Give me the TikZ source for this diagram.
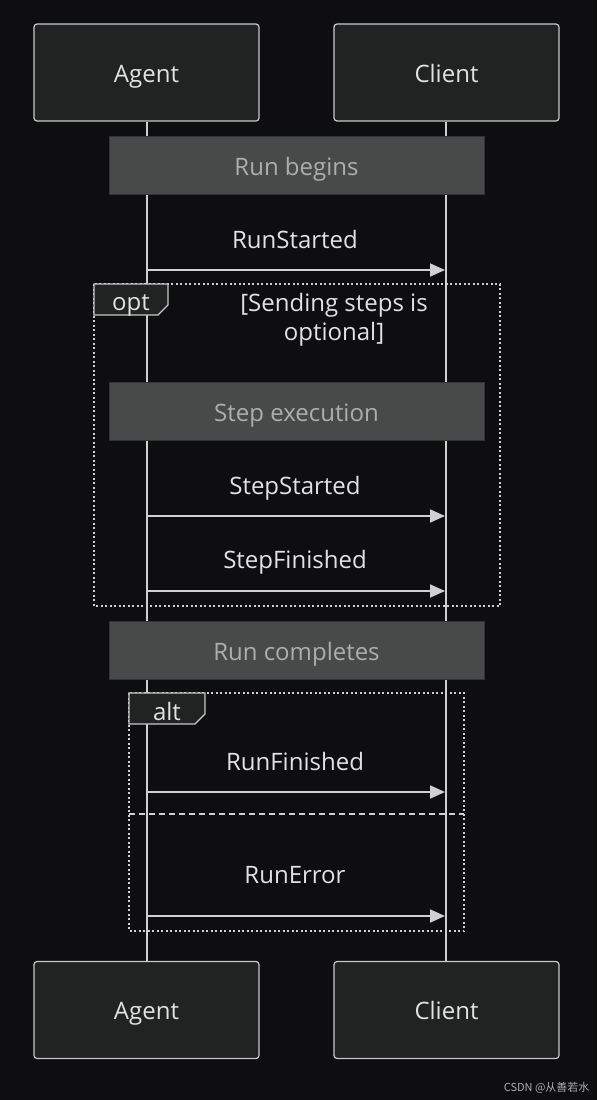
\documentclass[tikz,border=0pt]{standalone}
\usepackage{fontspec}
\setmainfont{Open Sans}
\newfontfamily\cjk{Noto Sans CJK SC}
\usetikzlibrary{arrows.meta}
\definecolor{bgc}{HTML}{0E0E10}
\definecolor{actfill}{HTML}{212322}
\definecolor{actline}{HTML}{C8C8C8}
\definecolor{txt}{HTML}{E2E2E2}
\definecolor{notefill}{HTML}{484949}
\definecolor{noteline}{HTML}{333333}
\definecolor{notetxt}{HTML}{ADADAD}
\definecolor{lifec}{HTML}{D0D0D0}
\tikzset{
  x=1pt, y=-1pt,
  fnt/.style={font=\fontsize{24}{28}\selectfont, text height=19pt, text depth=0pt},
  actor/.style={fnt, draw=actline, line width=1.2pt, fill=actfill, rounded corners=3pt,
    minimum width=225pt, minimum height=97pt, text=txt},
  notebox/.style={fnt, draw=noteline, line width=1pt, fill=notefill, minimum width=375pt,
    minimum height=58pt, text=notetxt},
  life/.style={draw=lifec, line width=1.8pt},
  msg/.style={draw=lifec, line width=1.8pt, -{Triangle[length=15pt,width=13pt]}, shorten >=1pt},
  msglabel/.style={fnt, text=txt, inner sep=0pt},
  frame/.style={draw=lifec, line width=2pt, dash pattern=on 2pt off 2.5pt},
  sep/.style={draw=lifec, line width=2pt, dash pattern=on 6pt off 4pt},
  tab/.style={draw=actline, line width=1.2pt, fill=actfill},
}
\begin{document}
\begin{tikzpicture}
\fill[bgc] (0,0) rectangle (597,1100);
\useasboundingbox (0,0) rectangle (597,1100);

% actors
\node[actor] (agentTop) at (146.5,72.5) {Agent};
\node[actor] (clientTop) at (446.5,72.5) {Client};
\node[actor] (agentBot) at (146.5,1010) {Agent};
\node[actor] (clientBot) at (446.5,1010) {Client};

% lifelines
\draw[life] (agentTop.south -| 147,0) -- (agentBot.north -| 147,0);
\draw[life] (clientTop.south -| 446,0) -- (clientBot.north -| 446,0);

% coordinates on lifelines
\coordinate (a1) at (147,270); \coordinate (c1) at (446,270);
\coordinate (a2) at (147,516); \coordinate (c2) at (446,516);
\coordinate (a3) at (147,591); \coordinate (c3) at (446,591);
\coordinate (a4) at (147,792); \coordinate (c4) at (446,792);
\coordinate (a5) at (147,916); \coordinate (c5) at (446,916);

% notes
\node[notebox] (n1) at (296.5,165.5) {Run begins};
\node[notebox] (n2) at (296.5,411.5) {Step execution};
\node[notebox] (n3) at (296.5,650.5) {Run completes};

% messages
\node[msglabel] (l1) at (295,239) {RunStarted};
\draw[msg] (a1) -- (c1);

% opt frame
\draw[frame] (94,284) rectangle (500,606);
\draw[tab] (94,284) -- (168,284) -- (168,305) -- (158,315) -- (94,315) -- cycle;
\node[msglabel] (optl) at (131,301) {opt};
\node[msglabel] (cond1) at (334,302) {[Sending steps is};
\node[msglabel] (cond2) at (334,331) {optional]};

\node[msglabel] (l2) at (295,485) {StepStarted};
\draw[msg] (a2) -- (c2);
\node[msglabel] (l3) at (295,559) {StepFinished};
\draw[msg] (a3) -- (c3);

% alt frame
\draw[frame] (129,693) rectangle (464,931);
\draw[tab] (129,693) -- (205,693) -- (205,714) -- (195,724) -- (129,724) -- cycle;
\node[msglabel] (altl) at (167,711) {alt};
\node[msglabel] (l4) at (295,761) {RunFinished};
\draw[msg] (a4) -- (c4);
\draw[sep] (129,814) -- (464,814);
\node[msglabel] (l5) at (295,874) {RunError};
\draw[msg] (a5) -- (c5);

% watermark
\node[anchor=east, text=notetxt, font=\cjk\fontsize{11}{13}\selectfont] (wm) at (593,1088) {CSDN @从善若水};
\end{tikzpicture}
\end{document}
